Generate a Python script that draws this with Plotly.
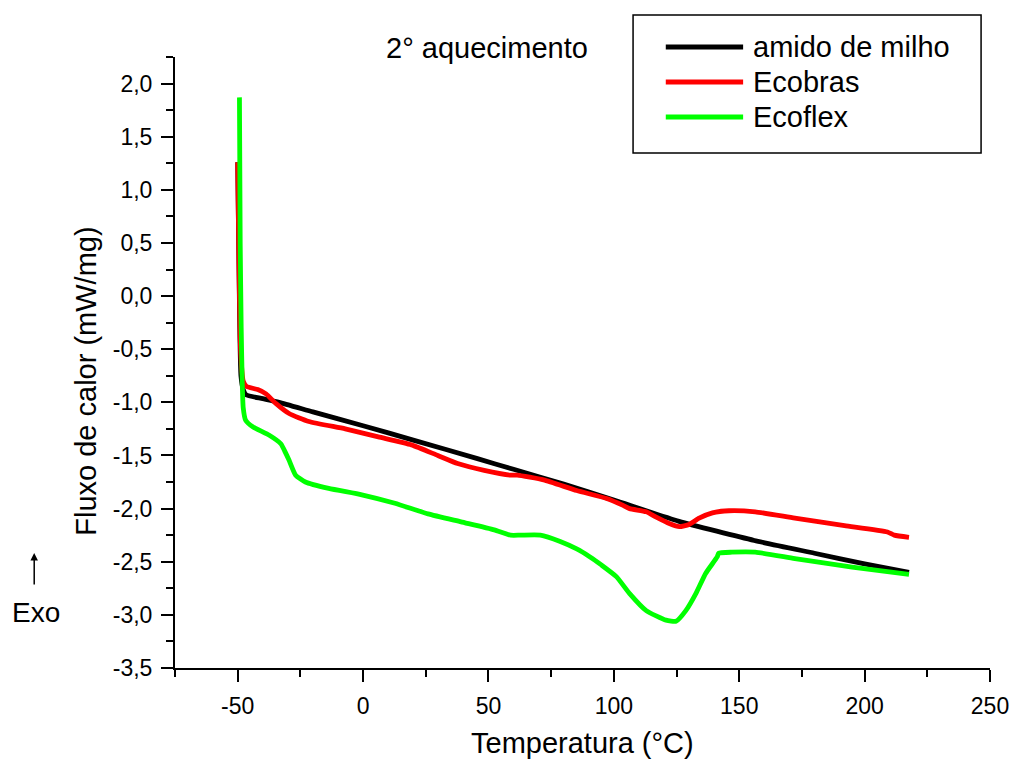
import plotly.graph_objects as go

# ---------------- data ----------------
amido_x = [-50.0, -49.5, -49.1, -48.7, -47.8, -46.6, -40.0, -33.5, -20.0, 0.0, 20.0, 45.6, 60.0,
           80.0, 100.0, 126.0, 156.0, 180.0, 200.0, 217.7]
amido_y = [1.26, 0.3, -0.4, -0.75, -0.88, -0.93, -0.965, -1.0, -1.09, -1.22, -1.355, -1.53, -1.63,
           -1.77, -1.92, -2.12, -2.30, -2.42, -2.52, -2.60]

ecobras_x = [-50.0, -49.5, -49.0, -48.5, -47.8, -46.5, -42.0, -38.7, -34.8, -29.5, -21.6, -7.1, 6.1,
             19.3, 29.8, 37.7, 48.3, 58.8, 61.5, 72.0, 85.2, 97.1, 103.7, 106.3, 112.9, 116.9, 122.1,
             126.1, 130.0, 134.0, 139.3, 145.9, 156.4, 172.2, 192.0, 209.1, 211.8, 217.7]
ecobras_y = [1.26, 0.3, -0.4, -0.65, -0.80, -0.85, -0.88, -0.92, -1.01, -1.105, -1.18, -1.25, -1.325,
             -1.40, -1.50, -1.575, -1.64, -1.685, -1.685, -1.73, -1.83, -1.905, -1.97, -2.0, -2.03,
             -2.08, -2.14, -2.17, -2.15, -2.09, -2.04, -2.02, -2.03, -2.09, -2.16, -2.22, -2.25, -2.27]

ecoflex_x = [-49.3, -49.0, -48.6, -48.2, -47.8, -46.8, -44.0, -37.4, -32.8, -30.8, -29.5, -26.9, -23.0,
             -13.7, -0.5, 12.7, 25.9, 39.1, 52.3, 58.8, 62.8, 70.7, 78.6, 85.2, 90.5, 95.0, 101.0,
             106.3, 112.9, 120.8, 124.8, 128.7, 132.7, 136.6, 141.2, 141.8, 147.1, 156.4, 172.2,
             195.0, 217.7]
ecoflex_y = [1.87, 0.5, -0.3, -0.8, -1.05, -1.17, -1.23, -1.31, -1.39, -1.48, -1.545, -1.685, -1.75,
             -1.81, -1.87, -1.95, -2.05, -2.125, -2.20, -2.25, -2.25, -2.25, -2.31, -2.38, -2.455,
             -2.53, -2.64, -2.80, -2.96, -3.05, -3.06, -2.96, -2.80, -2.61, -2.455, -2.42, -2.41,
             -2.41, -2.47, -2.55, -2.62]

series_names = ["amido de milho", "Ecobras", "Ecoflex"]
series_colors = ["#000000", "#ff0000", "#00ff00"]

x_tickvals = [-50, 0, 50, 100, 150, 200, 250]
x_ticktext = ["-50", "0", "50", "100", "150", "200", "250"]
y_tickvals = [2.0, 1.5, 1.0, 0.5, 0.0, -0.5, -1.0, -1.5, -2.0, -2.5, -3.0, -3.5]
y_ticktext = ["2,0", "1,5", "1,0", "0,5", "0,0", "-0,5", "-1,0", "-1,5", "-2,0", "-2,5", "-3,0", "-3,5"]

# ---------------- layout geometry (pixels) ----------------
W, H = 1021, 762
L, R, T, B = 175, 24, 57, 94
PW, PH = W - L - R, H - T - B


def px(xp):
    return (xp - L) / PW


def py(yp):
    return (H - B - yp) / PH


FONT = "Liberation Sans, Arial, sans-serif"

fig = go.Figure()
for xs, ys, name, col in zip([amido_x, ecobras_x, ecoflex_x], [amido_y, ecobras_y, ecoflex_y],
                             series_names, series_colors):
    fig.add_trace(go.Scatter(x=xs, y=ys, mode="lines", name=name,
                             line=dict(color=col, width=4.8, shape="spline", smoothing=0.5),
                             showlegend=False))

axis_common = dict(showline=True, linecolor="black", linewidth=2, ticks="outside", ticklen=12,
                   tickwidth=2, tickcolor="black", showgrid=False, zeroline=False, mirror=False,
                   tickfont=dict(family=FONT, size=23, color="black"), ticklabelstandoff=4)

fig.update_layout(
    width=W, height=H,
    margin=dict(l=L, r=R, t=T, b=B, pad=0),
    plot_bgcolor="white", paper_bgcolor="white",
    xaxis=dict(range=[-75, 250], tickmode="array", tickvals=x_tickvals, ticktext=x_ticktext,
               minor=dict(ticks="outside", ticklen=7, tickwidth=2, tickcolor="black", dtick=25,
                          tick0=0),
               **axis_common),
    yaxis=dict(range=[-3.5, 2.25], tickmode="array", tickvals=y_tickvals, ticktext=y_ticktext,
               minor=dict(ticks="outside", ticklen=7, tickwidth=2, tickcolor="black", dtick=0.25,
                          tick0=0),
               **axis_common),
    showlegend=False,
)

annotations = [
    dict(text="Temperatura (°C)", x=px(586), y=py(743), xref="paper", yref="paper",
         showarrow=False, font=dict(family=FONT, size=29, color="black"),
         xanchor="center", yanchor="middle"),
    dict(text="Fluxo de calor (mW/mg)", x=px(85), y=py(381), xref="paper", yref="paper",
         showarrow=False, textangle=-90, font=dict(family=FONT, size=29, color="black"),
         xanchor="center", yanchor="middle"),
    dict(text="2° aquecimento", x=px(490), y=py(48), xref="paper", yref="paper",
         showarrow=False, font=dict(family=FONT, size=29, color="black"),
         xanchor="center", yanchor="middle"),
    dict(text="Exo", x=px(35), y=py(612), xref="paper", yref="paper",
         showarrow=False, font=dict(family=FONT, size=28, color="black"),
         xanchor="center", yanchor="middle"),
    dict(text="", x=px(33), y=py(553), xref="paper", yref="paper", showarrow=True,
         arrowhead=2, arrowsize=1, arrowwidth=1.5, arrowcolor="black", ax=0, ay=33),
]

shapes = [
    dict(type="rect", xref="paper", yref="paper", x0=px(637), x1=px(988), y0=py(15), y1=py(153),
         line=dict(color="black", width=1.5), fillcolor="white", layer="above"),
]
leg_rows = [47, 82, 117]
for name, col, yr in zip(series_names, series_colors, leg_rows):
    shapes.append(dict(type="line", xref="paper", yref="paper", x0=px(670), x1=px(748),
                       y0=py(yr), y1=py(yr), line=dict(color=col, width=4.8), layer="above"))
    annotations.append(dict(text=name, x=px(756), y=py(yr), xref="paper", yref="paper",
                            showarrow=False, font=dict(family=FONT, size=29, color="black"),
                            xanchor="left", yanchor="middle"))

fig.update_layout(annotations=annotations, shapes=shapes)
fig.write_html("out.html")
